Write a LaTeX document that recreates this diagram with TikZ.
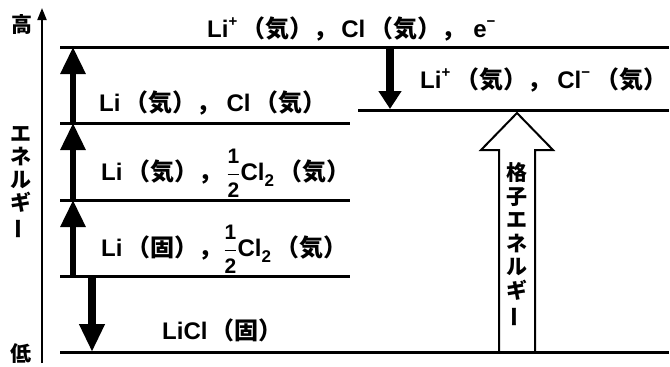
\documentclass[tikz,border=0pt]{standalone}
\usepackage{fontspec}
\setmainfont{Noto Sans CJK JP}
\newfontfamily\latinfont{Liberation Sans}
\usetikzlibrary{arrows.meta}
% Latin part of a formula
\newcommand\lt[1]{{\latinfont\bfseries #1}}
% one half, written as a stacked fraction
\newcommand\halfof{$\displaystyle\frac{\hbox{\fontsize{21}{21}\latinfont\bfseries 1}}{\hbox{\fontsize{21}{21}\latinfont\bfseries 2}}$}
\newcommand\lowidx[1]{\raisebox{-0.27em}{\fontsize{17}{17}\latinfont\bfseries #1}}
\newcommand\highidx[1]{\raisebox{0.45em}{\fontsize{15}{15}\latinfont\bfseries #1}}
% long vowel mark set upright for vertical writing
\newcommand\tatebar{\rotatebox[origin=c]{90}{ー}}
\begin{document}
\begin{tikzpicture}[x=1pt,y=-1pt,
  level/.style={line width=3pt},
  axisline/.style={line width=2pt,-{Triangle[width=9pt,length=12pt]}},
  uparrow/.style={line width=6pt,-{Triangle[width=24pt,length=27pt]}},
  downarrow/.style={line width=8pt,-{Triangle[width=24pt,length=28pt]}},
  droparrow/.style={line width=8pt,-{Triangle[width=22pt,length=18pt]}},
  hollow/.style={line width=2pt,fill=white,line join=miter},
  lab/.style={font=\fontsize{24}{28}\selectfont\bfseries,inner sep=0pt,anchor=base west},
  side/.style={font=\fontsize{21}{23}\selectfont\bfseries,inner sep=0pt,align=center},
]
\useasboundingbox (0,0) rectangle (670,367);

% energy axis
\coordinate (axB) at (42,363);
\coordinate (axT) at (42,8);
\draw[axisline] (axB) -- (axT);
\node[side] (hi) at (22,25) {高};
\node[side] (lo) at (21,354) {低};
\node[side] (ene) at (21,183) {エ\\ネ\\ル\\ギ\\\tatebar};

% energy levels
\coordinate (L0a) at (60,47);   \coordinate (L0b) at (669,47);
\coordinate (L1a) at (358,110); \coordinate (L1b) at (669,110);
\coordinate (L2a) at (60,123);  \coordinate (L2b) at (350,123);
\coordinate (L3a) at (60,200);  \coordinate (L3b) at (350,200);
\coordinate (L4a) at (60,276);  \coordinate (L4b) at (350,276);
\coordinate (L5a) at (60,352);  \coordinate (L5b) at (669,352);
\foreach \n in {0,...,5} \draw[level] (L\n a) -- (L\n b);

% level labels
\node[lab] (s0) at (207,37) {\lt{Li}\highidx{+}\hspace{4pt}（気），\hspace{4pt}\lt{Cl}\hspace{4pt}（気），\hspace{8pt}\lt{e}\highidx{−}};
\node[lab] (s1) at (420,88) {\lt{Li}\highidx{+}\hspace{5pt}（気），\hspace{6pt}\lt{Cl}\highidx{−}\hspace{5pt}（気）};
\node[lab] (s2) at (99,111) {\lt{Li}\hspace{4pt}（気），\hspace{6pt}\lt{Cl}\hspace{4pt}（気）};
\node[lab] (s3) at (101,180) {\lt{Li}\hspace{4pt}（気），\hspace{4pt}\halfof\lt{Cl}\lowidx{2}\hspace{4pt}（気）};
\node[lab] (s4) at (101,256) {\lt{Li}\hspace{4pt}（固），\hspace{1pt}\halfof\lt{Cl}\lowidx{2}\hspace{4pt}（気）};
\node[lab] (s5) at (162,339) {\lt{LiCl}\hspace{3pt}（固）};

% steps between levels
\coordinate (u4) at (73,276); \coordinate (u3) at (73,200);
\coordinate (u2) at (73,123); \coordinate (u0) at (73,47);
\draw[uparrow] (u4) -- (u3);
\draw[uparrow] (u3) -- (u2);
\draw[uparrow] (u2) -- (u0);
\coordinate (d4) at (92,276); \coordinate (d5) at (92,352);
\draw[downarrow] (d4) -- (d5);
\coordinate (e0) at (390,47); \coordinate (e1) at (390,109);
\draw[droparrow] (e0) -- (e1);

% lattice energy arrow
\coordinate (gTip) at (517,113);
\draw[hollow] (499,352) -- (499,150) -- (481,150) -- (gTip) -- (553,150) -- (535,150) -- (535,352) -- cycle;
\node[side,font=\fontsize{21}{23.5}\selectfont\bfseries] (lat) at (517,245) {格\\子\\エ\\ネ\\ル\\ギ\\\tatebar};
\end{tikzpicture}
\end{document}
